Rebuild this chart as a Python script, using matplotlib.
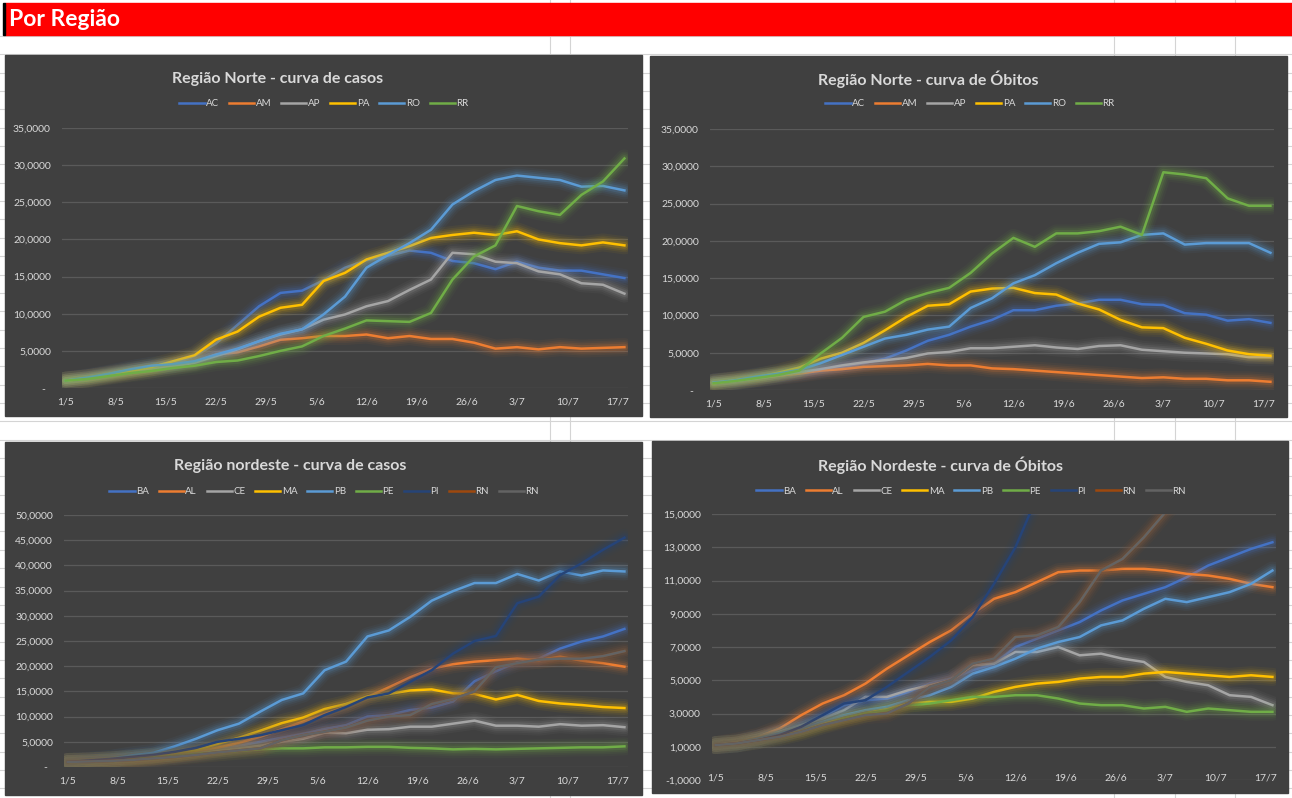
import matplotlib
matplotlib.use('Agg')
import matplotlib.pyplot as plt
from matplotlib.patches import Rectangle
from matplotlib.lines import Line2D

plt.rcParams['font.family'] = ['Lato', 'DejaVu Sans']

W, H = 1292, 798

# dias desde 1/5 (amostra a cada 3 dias)
dias = [0, 3, 6, 9, 12, 15, 18, 21, 24, 27, 30, 33, 36, 39, 42, 45, 48, 51, 54, 57, 60, 63, 66, 69, 72, 75, 78]
pos_rotulos = [0, 7, 14, 21, 28, 35, 42, 49, 56, 63, 70, 77]
rotulos_x = ['1/5', '8/5', '15/5', '22/5', '29/5', '5/6', '12/6', '19/6', '26/6', '3/7', '10/7', '17/7']

# Regiao Norte - casos
norte_nomes = ['AC', 'AM', 'AP', 'PA', 'RO', 'RR']
nc_AC = [1.0, 1.3, 1.8, 2.3, 2.7, 3.2, 4.3, 6.0, 8.5, 11.0, 12.8, 13.1, 14.5, 16.2, 17.2, 17.8, 18.5, 18.2, 17.1, 16.8, 16.0, 17.0, 16.2, 15.8, 15.8, 15.3, 14.8]
nc_AM = [1.0, 1.3, 1.7, 2.1, 2.5, 3.0, 3.5, 4.5, 4.8, 5.6, 6.5, 6.7, 7.0, 7.0, 7.2, 6.7, 7.0, 6.6, 6.6, 6.1, 5.3, 5.5, 5.2, 5.5, 5.3, 5.4, 5.5]
nc_AP = [1.0, 1.3, 1.7, 2.1, 2.5, 2.9, 3.4, 4.3, 5.2, 6.3, 7.2, 7.9, 9.2, 9.9, 11.0, 11.7, 13.2, 14.6, 18.2, 18.0, 17.0, 16.8, 15.7, 15.3, 14.1, 13.9, 12.7]
nc_PA = [1.0, 1.3, 1.8, 2.3, 2.8, 3.6, 4.4, 6.5, 7.6, 9.6, 10.8, 11.2, 14.4, 15.5, 17.3, 18.2, 19.1, 20.2, 20.6, 20.9, 20.6, 21.1, 20.0, 19.5, 19.2, 19.6, 19.2]
nc_RO = [1.0, 1.4, 1.9, 2.5, 3.0, 3.2, 3.6, 4.5, 5.3, 6.3, 7.3, 7.9, 9.9, 12.3, 16.2, 17.9, 19.5, 21.3, 24.7, 26.5, 28.0, 28.6, 28.3, 28.0, 27.1, 27.2, 26.6]
nc_RR = [1.0, 1.2, 1.6, 2.0, 2.3, 2.7, 3.0, 3.5, 3.7, 4.3, 5.0, 5.6, 7.0, 8.0, 9.1, 9.0, 8.9, 10.1, 14.6, 17.7, 19.2, 24.5, 23.8, 23.3, 26.0, 27.8, 30.9]

# Regiao Norte - obitos
no_AC = [1.0, 1.2, 1.5, 1.9, 2.3, 2.7, 3.1, 3.6, 4.2, 5.3, 6.6, 7.4, 8.5, 9.4, 10.7, 10.7, 11.3, 11.6, 12.1, 12.1, 11.5, 11.4, 10.3, 10.1, 9.3, 9.5, 9.0]
no_AM = [1.0, 1.3, 1.6, 1.9, 2.2, 2.6, 2.8, 3.1, 3.2, 3.3, 3.5, 3.3, 3.3, 2.9, 2.8, 2.6, 2.4, 2.2, 2.0, 1.8, 1.6, 1.7, 1.5, 1.5, 1.3, 1.3, 1.1]
no_AP = [1.0, 1.2, 1.6, 2.0, 2.4, 2.8, 3.3, 3.7, 4.0, 4.3, 4.9, 5.1, 5.6, 5.6, 5.8, 6.0, 5.7, 5.5, 5.9, 6.0, 5.4, 5.2, 5.0, 4.9, 4.8, 4.4, 4.4]
no_PA = [0.9, 1.3, 1.7, 2.3, 3.0, 4.2, 5.0, 6.3, 8.0, 9.8, 11.3, 11.5, 13.2, 13.6, 13.7, 13.0, 12.8, 11.6, 10.8, 9.4, 8.4, 8.3, 7.0, 6.2, 5.3, 4.8, 4.6]
no_RO = [1.0, 1.3, 1.8, 2.2, 2.7, 3.6, 4.7, 5.8, 6.9, 7.4, 8.1, 8.5, 11.0, 12.3, 14.3, 15.4, 17.0, 18.4, 19.6, 19.8, 20.8, 21.0, 19.5, 19.7, 19.7, 19.7, 18.4]
no_RR = [0.9, 1.2, 1.6, 2.0, 2.6, 4.9, 7.0, 9.8, 10.5, 12.1, 13.0, 13.7, 15.7, 18.3, 20.4, 19.2, 21.0, 21.0, 21.3, 21.9, 20.8, 29.2, 28.9, 28.4, 25.7, 24.7, 24.7]

# Regiao Nordeste - casos
nordeste_nomes = ['BA', 'AL', 'CE', 'MA', 'PB', 'PE', 'PI', 'RN', 'RN']
ndc_BA = [1.0, 1.1, 1.3, 1.6, 2.0, 2.5, 3.0, 3.6, 4.2, 5.0, 5.8, 6.6, 7.5, 8.3, 10.0, 10.3, 11.3, 11.8, 13.0, 17.0, 19.0, 20.8, 21.5, 23.5, 24.9, 25.9, 27.4]
ndc_AL = [1.0, 1.1, 1.3, 1.6, 2.0, 2.5, 3.1, 3.8, 4.8, 6.0, 7.5, 9.0, 10.5, 12.0, 13.9, 15.8, 17.8, 19.5, 20.4, 20.9, 21.2, 21.5, 21.2, 21.9, 21.1, 20.6, 19.9]
ndc_CE = [1.0, 1.1, 1.3, 1.5, 1.8, 2.2, 2.7, 3.2, 3.7, 4.2, 5.0, 5.6, 6.8, 6.7, 7.4, 7.5, 8.0, 8.0, 8.6, 9.2, 8.2, 8.2, 8.0, 8.5, 8.2, 8.3, 7.9]
ndc_MA = [1.0, 1.1, 1.4, 1.7, 2.1, 2.7, 3.3, 4.6, 5.8, 7.2, 8.7, 9.8, 11.5, 12.5, 14.0, 14.5, 15.2, 15.4, 14.6, 14.5, 13.4, 14.3, 13.1, 12.6, 12.3, 11.9, 11.7]
ndc_PB = [1.0, 1.2, 1.6, 2.3, 2.8, 4.1, 5.6, 7.3, 8.6, 11.0, 13.3, 14.6, 19.2, 20.9, 25.9, 27.1, 29.8, 33.0, 34.9, 36.5, 36.5, 38.3, 37.0, 38.8, 38.0, 39.0, 38.8]
ndc_PE = [1.0, 1.1, 1.3, 1.6, 1.9, 2.2, 2.6, 2.9, 3.2, 3.5, 3.7, 3.7, 3.9, 3.9, 4.0, 4.0, 3.8, 3.7, 3.5, 3.6, 3.5, 3.6, 3.7, 3.8, 3.9, 3.9, 4.1]
ndc_PI = [1.0, 1.3, 1.6, 2.0, 2.4, 3.0, 3.8, 5.0, 5.6, 6.3, 7.3, 8.3, 10.3, 11.9, 13.8, 14.6, 16.9, 19.2, 22.5, 25.0, 26.0, 32.5, 33.8, 38.1, 40.4, 43.1, 45.5]
ndc_RN = [1.0, 1.1, 1.2, 1.4, 1.7, 2.0, 2.4, 2.9, 3.3, 3.7, 5.3, 6.3, 7.0, 7.8, 9.2, 10.0, 10.3, 12.5, 13.5, 15.0, 19.8, 20.6, 21.3, 21.5, 21.5, 22.0, 23.0]

# Regiao Nordeste - obitos
ndo_BA = [1.1, 1.2, 1.4, 1.7, 2.2, 2.8, 3.5, 3.8, 3.9, 4.3, 4.8, 5.1, 5.6, 6.0, 7.0, 7.5, 8.0, 8.5, 9.2, 9.8, 10.2, 10.6, 11.2, 11.9, 12.4, 12.9, 13.3]
ndo_AL = [1.1, 1.3, 1.6, 2.1, 2.9, 3.6, 4.1, 4.8, 5.7, 6.5, 7.3, 8.0, 9.0, 9.9, 10.3, 10.9, 11.5, 11.6, 11.6, 11.7, 11.7, 11.6, 11.4, 11.3, 11.1, 10.8, 10.6]
ndo_CE = [1.1, 1.2, 1.5, 1.9, 2.3, 2.7, 3.2, 4.0, 4.0, 4.4, 4.7, 5.0, 5.9, 6.0, 6.7, 6.7, 7.0, 6.5, 6.6, 6.3, 6.1, 5.2, 4.9, 4.7, 4.1, 4.0, 3.5]
ndo_MA = [1.1, 1.2, 1.4, 1.7, 2.0, 2.4, 2.7, 3.0, 3.3, 3.6, 3.7, 3.7, 3.9, 4.3, 4.6, 4.8, 4.9, 5.1, 5.2, 5.2, 5.4, 5.5, 5.4, 5.3, 5.2, 5.3, 5.2]
ndo_PB = [1.1, 1.2, 1.5, 1.8, 2.1, 2.5, 2.9, 3.2, 3.4, 3.8, 4.1, 4.6, 5.4, 5.8, 6.3, 6.9, 7.3, 7.6, 8.3, 8.6, 9.3, 9.9, 9.7, 10.0, 10.3, 10.8, 11.6]
ndo_PE = [1.1, 1.2, 1.4, 1.6, 1.9, 2.3, 2.7, 3.0, 3.2, 3.5, 3.6, 3.8, 4.0, 4.0, 4.1, 4.1, 3.9, 3.6, 3.5, 3.5, 3.3, 3.4, 3.1, 3.3, 3.2, 3.1, 3.1]
ndo_PI = [1.1, 1.2, 1.4, 1.7, 2.2, 2.9, 3.6, 3.8, 4.6, 5.5, 6.4, 7.4, 8.8, 10.8, 13.0, 16.0, 18.5, 21.0, 23.5, 26.0, 28.5, 31.0, 33.5, 36.0, 38.5, 41.0, 43.5]
ndo_RN = [1.1, 1.2, 1.4, 1.6, 1.9, 2.3, 2.6, 2.9, 3.0, 3.6, 4.6, 5.0, 6.0, 6.3, 7.6, 7.7, 8.2, 9.7, 11.6, 12.3, 13.6, 15.1, 16.5, 18.0, 19.5, 21.0, 22.5]

cores_norte = ['#4472C4', '#ED7D31', '#A5A5A5', '#FFC000', '#5B9BD5', '#70AD47']
cores_nordeste = ['#4472C4', '#ED7D31', '#A5A5A5', '#FFC000', '#5B9BD5', '#70AD47', '#264478', '#9E480E', '#636363']

FUNDO = '#404040'
TEXTO = '#D9D9D9'


def fx(x):
    return x / W


def fy(y):
    return 1 - y / H


def rotulo_y(v):
    if v == 0:
        return '-  '
    return f'{v:.4f}'.replace('.', ',')


def painel(caixa, area, titulo, pos_titulo, nomes, cores, series, yticks, pos_leg, pad_x):
    x0, y0, x1, y1 = caixa
    fig.add_artist(Rectangle((fx(x0), fy(y1)), (x1 - x0) / W, (y1 - y0) / H,
                             transform=fig.transFigure, color=FUNDO, zorder=1))
    a0, b0, a1, b1 = area
    ax = fig.add_axes([fx(a0), fy(b1), (a1 - a0) / W, (b1 - b0) / H])
    ax.set_zorder(5)
    ax.set_facecolor('none')
    for s in ax.spines.values():
        s.set_visible(False)
    ax.set_ylim(yticks[0], yticks[-1])
    ax.set_xlim(-0.5, 78.5)
    ax.set_yticks(yticks)
    ax.set_yticklabels([rotulo_y(v) for v in yticks])
    ax.set_xticks(pos_rotulos)
    ax.set_xticklabels(rotulos_x)
    ax.yaxis.grid(True, color='#5A5A5A', lw=0.9)
    ax.set_axisbelow(True)
    ax.tick_params(axis='y', length=0, pad=8, labelsize=7.5, labelcolor=TEXTO)
    ax.tick_params(axis='x', length=0, pad=pad_x, labelsize=7.5, labelcolor=TEXTO)
    linhas = []
    for v, c in zip(series, cores):
        # brilho (glow) em volta da linha, como no Excel
        for lw, al in [(13, 0.05), (10, 0.07), (7.5, 0.10), (5, 0.16)]:
            ax.plot(dias, v, color=c, lw=lw, alpha=al, solid_joinstyle='round', solid_capstyle='round')
        ln, = ax.plot(dias, v, color=c, lw=1.8, solid_joinstyle='round')
        linhas.append(ln)
    fig.text(fx(pos_titulo[0]), fy(pos_titulo[1]), titulo, ha='center', va='center',
             fontsize=11.5, fontweight='bold', color=TEXTO, zorder=6)
    fig.legend(linhas, nomes, loc='center', bbox_to_anchor=(fx(pos_leg[0]), fy(pos_leg[1])),
               ncol=len(nomes), frameon=False, fontsize=7, labelcolor=TEXTO,
               handlelength=2.6, handletextpad=0.15, columnspacing=1.0)
    return ax


fig = plt.figure(figsize=(W / 100, H / 100), dpi=100)
fig.patch.set_facecolor('white')

# grade da planilha
cinza_grade = '#D4D4D4'
y = 36.0
while y < H:
    fig.add_artist(Line2D([0, 1], [fy(y), fy(y)], transform=fig.transFigure, color=cinza_grade, lw=0.8, zorder=0.5))
    y += 18.35
for xg in [550, 570, 1114, 1175, 1235]:
    fig.add_artist(Line2D([fx(xg), fx(xg)], [0, 1], transform=fig.transFigure, color=cinza_grade, lw=0.8, zorder=0.5))

# faixa vermelha do titulo
fig.add_artist(Rectangle((fx(5), fy(35)), (W - 5) / W, 32 / H, transform=fig.transFigure, color='#FF0000', zorder=0.8))
fig.add_artist(Rectangle((fx(3), fy(35)), 2 / W, 32 / H, transform=fig.transFigure, color='#000000', zorder=0.8))
fig.text(fx(9), fy(20), 'Por Região', ha='left', va='center', fontsize=16.5, fontweight='bold', color='white', zorder=6)

painel((5, 55, 642, 416), (62, 128, 628, 388), 'Região Norte - curva de casos', (278, 79),
       norte_nomes, cores_norte, [nc_AC, nc_AM, nc_AP, nc_PA, nc_RO, nc_RR],
       [0, 5, 10, 15, 20, 25, 30, 35], (324, 104), 7)

painel((650, 56, 1287, 417), (710, 129, 1274, 390), 'Região Norte - curva de Óbitos', (928, 79),
       norte_nomes, cores_norte, [no_AC, no_AM, no_AP, no_PA, no_RO, no_RR],
       [0, 5, 10, 15, 20, 25, 30, 35], (970, 104), 7)

painel((5, 442, 642, 795), (64, 515, 628, 767), 'Região nordeste - curva de casos', (290, 466),
       nordeste_nomes, cores_nordeste,
       [ndc_BA, ndc_AL, ndc_CE, ndc_MA, ndc_PB, ndc_PE, ndc_PI, ndc_RN, ndc_RN],
       [0, 5, 10, 15, 20, 25, 30, 35, 40, 45, 50], (324, 492), 6.5)

painel((652, 441, 1288, 793), (712, 514, 1276, 780), 'Região Nordeste - curva de Óbitos', (941, 465),
       nordeste_nomes, cores_nordeste,
       [ndo_BA, ndo_AL, ndo_CE, ndo_MA, ndo_PB, ndo_PE, ndo_PI, ndo_RN, ndo_RN],
       [-1, 1, 3, 5, 7, 9, 11, 13, 15], (971, 491), -5)

fig.savefig('out.png', dpi=100)
